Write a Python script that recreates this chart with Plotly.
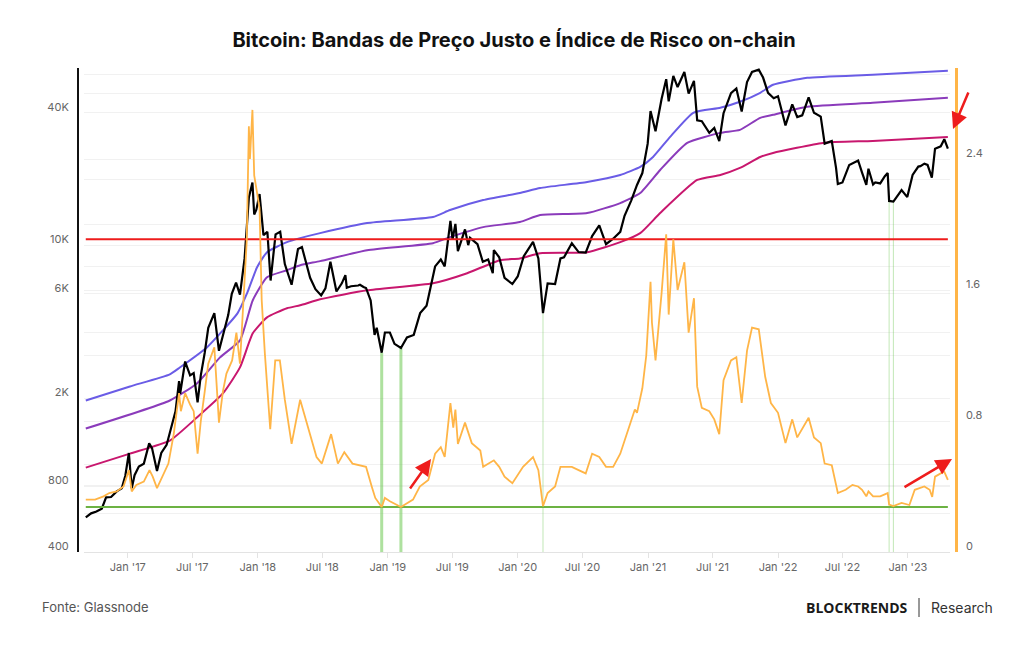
import math
import plotly.graph_objects as go

# ---------------- data ----------------
price_dates = [
    "2016-09-05", "2016-09-20", "2016-10-05", "2016-10-20", "2016-11-01", "2016-11-15", "2016-12-01",
    "2016-12-15", "2016-12-25", "2017-01-04", "2017-01-12", "2017-01-20", "2017-02-01", "2017-02-15",
    "2017-03-02", "2017-03-10", "2017-03-24", "2017-04-05", "2017-04-20", "2017-05-01", "2017-05-15",
    "2017-05-25", "2017-05-28", "2017-06-11", "2017-06-25", "2017-07-05", "2017-07-16", "2017-07-25",
    "2017-08-05", "2017-08-15", "2017-09-01", "2017-09-14", "2017-09-25", "2017-10-10", "2017-10-20",
    "2017-11-01", "2017-11-12", "2017-11-25", "2017-12-07", "2017-12-17", "2017-12-22", "2017-12-28",
    "2018-01-06", "2018-01-17", "2018-01-28", "2018-02-06", "2018-02-20", "2018-03-05", "2018-03-18",
    "2018-04-01", "2018-04-06", "2018-04-24", "2018-05-05", "2018-05-28", "2018-06-12", "2018-06-28",
    "2018-07-10", "2018-07-24", "2018-08-10", "2018-08-25", "2018-09-04", "2018-09-08", "2018-09-20",
    "2018-10-10", "2018-10-15", "2018-10-25", "2018-11-01", "2018-11-14", "2018-11-20", "2018-11-25",
    "2018-12-01", "2018-12-15", "2018-12-24", "2019-01-07", "2019-01-20", "2019-02-07", "2019-02-24",
    "2019-03-15", "2019-04-02", "2019-04-20", "2019-05-14", "2019-05-30", "2019-06-10", "2019-06-26",
    "2019-07-02", "2019-07-10", "2019-07-17", "2019-08-06", "2019-08-15", "2019-08-20", "2019-09-10",
    "2019-09-25", "2019-10-10", "2019-10-23", "2019-10-26", "2019-11-10", "2019-11-25", "2019-12-17",
    "2020-01-01", "2020-01-18", "2020-02-13", "2020-02-28", "2020-03-12", "2020-03-25", "2020-04-15",
    "2020-04-30", "2020-05-10", "2020-06-01", "2020-06-20", "2020-07-10", "2020-07-28", "2020-08-17",
    "2020-09-05", "2020-09-25", "2020-10-15", "2020-10-27", "2020-11-15", "2020-12-01", "2020-12-16",
    "2020-12-31", "2021-01-08", "2021-01-22", "2021-02-08", "2021-02-21", "2021-02-28", "2021-03-13",
    "2021-03-25", "2021-04-13", "2021-04-25", "2021-05-10", "2021-05-19", "2021-06-01", "2021-06-22",
    "2021-07-06", "2021-07-20", "2021-08-01", "2021-08-22", "2021-09-06", "2021-09-21", "2021-10-06",
    "2021-10-20", "2021-11-08", "2021-11-20", "2021-12-04", "2021-12-20", "2022-01-01", "2022-01-22",
    "2022-02-10", "2022-02-24", "2022-03-10", "2022-03-28", "2022-04-12", "2022-05-01", "2022-05-12",
    "2022-06-01", "2022-06-13", "2022-06-18", "2022-07-01", "2022-07-20", "2022-08-14", "2022-08-25",
    "2022-09-06", "2022-09-12", "2022-09-25", "2022-10-01", "2022-10-15", "2022-10-28", "2022-11-05",
    "2022-11-09", "2022-11-21", "2022-12-14", "2022-12-30", "2023-01-14", "2023-01-30", "2023-02-05",
    "2023-02-16", "2023-02-25", "2023-03-09", "2023-03-18", "2023-04-03", "2023-04-13", "2023-04-23",
]
price_values = [
    575, 600, 612, 630, 710, 712, 755,
    780, 890, 1130, 780, 895, 980, 1010,
    1250, 1190, 935, 1130, 1230, 1420, 1750,
    2400, 2100, 2950, 2550, 2610, 1920, 2550,
    3230, 4200, 4900, 3300, 3900, 4800, 6000,
    6750, 5950, 8700, 16500, 19300, 13800, 14500,
    17100, 11100, 11500, 6900, 11200, 11500, 8200,
    6850, 6600, 9600, 9800, 7100, 6300, 5900,
    6350, 8400, 6150, 6700, 7300, 6400, 6500,
    6550, 6600, 6450, 6380, 5600, 4400, 3900,
    4200, 3236, 4000, 4000, 3550, 3400, 3800,
    3900, 4900, 5300, 8000, 8600, 8000, 12900,
    10600, 12500, 9400, 11800, 10000, 10800, 10100,
    8400, 8600, 7450, 9500, 8800, 7100, 6650,
    7200, 8900, 10350, 8700, 4900, 6700, 6650,
    8700, 8800, 10200, 9300, 9250, 11000, 12300,
    10100, 10700, 11500, 13600, 16000, 18800, 21300,
    29000, 40800, 33000, 46300, 57000, 45200, 59000,
    52500, 61500, 49000, 56000, 37000, 36700, 32500,
    34200, 29800, 39900, 49300, 51700, 40600, 55300,
    61500, 63000, 58000, 49400, 46700, 47700, 35100,
    43800, 38300, 39000, 47100, 40100, 38500, 29000,
    29800, 22500, 19000, 19300, 23200, 24300, 21400,
    18800, 22300, 18900, 19300, 19100, 20600, 21300,
    15900, 15800, 17800, 16550, 20900, 22800, 22900,
    23500, 23200, 20300, 27500, 28200, 30400, 27500,
]

risk_dates = [
    "2016-09-05", "2016-10-01", "2016-10-25", "2016-11-10", "2016-12-01", "2016-12-20", "2017-01-04",
    "2017-01-12", "2017-01-25", "2017-02-15", "2017-03-03", "2017-03-12", "2017-03-24", "2017-04-10",
    "2017-04-25", "2017-05-10", "2017-05-25", "2017-05-30", "2017-06-11", "2017-06-25", "2017-07-05",
    "2017-07-16", "2017-07-25", "2017-08-05", "2017-08-15", "2017-09-01", "2017-09-14", "2017-09-25",
    "2017-10-05", "2017-10-21", "2017-11-02", "2017-11-12", "2017-11-20", "2017-12-01", "2017-12-07",
    "2017-12-10", "2017-12-17", "2017-12-22", "2018-01-06", "2018-01-12", "2018-01-21", "2018-02-05",
    "2018-02-19", "2018-03-04", "2018-03-18", "2018-04-06", "2018-04-30", "2018-05-28", "2018-06-15",
    "2018-06-30", "2018-07-26", "2018-08-14", "2018-09-01", "2018-09-24", "2018-11-01", "2018-11-17",
    "2018-11-27", "2018-12-15", "2018-12-24", "2019-01-07", "2019-01-26", "2019-02-07", "2019-03-13",
    "2019-04-01", "2019-04-25", "2019-05-14", "2019-05-30", "2019-06-10", "2019-06-26", "2019-07-04",
    "2019-07-10", "2019-07-17", "2019-08-06", "2019-08-25", "2019-09-18", "2019-09-26", "2019-10-26",
    "2019-11-10", "2019-11-25", "2019-12-17", "2020-01-16", "2020-02-13", "2020-02-28", "2020-03-12",
    "2020-03-25", "2020-04-15", "2020-04-30", "2020-06-01", "2020-06-20", "2020-07-10", "2020-07-28",
    "2020-08-17", "2020-09-05", "2020-09-25", "2020-10-15", "2020-10-27", "2020-11-15", "2020-11-25",
    "2020-12-01", "2020-12-16", "2020-12-27", "2021-01-03", "2021-01-08", "2021-01-12", "2021-01-22",
    "2021-02-08", "2021-02-21", "2021-02-28", "2021-03-13", "2021-03-25", "2021-04-13", "2021-04-25",
    "2021-05-10", "2021-05-19", "2021-06-01", "2021-06-22", "2021-07-06", "2021-07-20", "2021-08-01",
    "2021-08-22", "2021-09-06", "2021-09-21", "2021-10-06", "2021-10-20", "2021-11-08", "2021-11-26",
    "2021-12-12", "2022-01-01", "2022-01-22", "2022-02-10", "2022-02-24", "2022-03-28", "2022-04-12",
    "2022-05-01", "2022-05-12", "2022-06-01", "2022-06-13", "2022-06-18", "2022-07-10", "2022-07-29",
    "2022-08-14", "2022-08-25", "2022-09-06", "2022-09-12", "2022-09-25", "2022-10-15", "2022-11-05",
    "2022-11-09", "2022-11-21", "2022-12-14", "2023-01-05", "2023-01-20", "2023-02-16", "2023-03-03",
    "2023-03-10", "2023-03-18", "2023-04-03", "2023-04-13", "2023-04-23",
]
risk_values = [
    0.32, 0.32, 0.34, 0.36, 0.37, 0.40, 0.50,
    0.37, 0.41, 0.43, 0.50, 0.46, 0.39, 0.47,
    0.54, 0.72, 0.97, 0.86, 0.97, 0.90, 0.86,
    0.60, 0.80, 0.98, 1.15, 1.25, 0.79, 0.98,
    1.09, 1.17, 1.34, 1.15, 1.45, 1.90, 2.60,
    2.40, 2.70, 2.30, 2.10, 1.54, 1.21, 0.75,
    1.17, 1.17, 0.93, 0.66, 0.93, 0.72, 0.58,
    0.54, 0.72, 0.54, 0.61, 0.54, 0.52, 0.40,
    0.33, 0.275, 0.33, 0.31, 0.287, 0.275, 0.32,
    0.40, 0.44, 0.60, 0.64, 0.58, 0.91, 0.76,
    0.87, 0.66, 0.79, 0.665, 0.62, 0.52, 0.56,
    0.52, 0.46, 0.42, 0.52, 0.58, 0.50, 0.28,
    0.36, 0.40, 0.52, 0.52, 0.50, 0.48, 0.60,
    0.58, 0.52, 0.52, 0.60, 0.68, 0.80, 0.87,
    0.85, 1.00, 1.20, 1.45, 1.65, 1.40, 1.17,
    1.58, 1.94, 1.45, 1.91, 1.60, 1.77, 1.34,
    1.55, 1.01, 0.88, 0.86, 0.81, 0.72, 1.05,
    1.17, 1.19, 0.91, 1.23, 1.37, 1.36, 1.07,
    0.91, 0.85, 0.665, 0.81, 0.70, 0.82, 0.70,
    0.665, 0.54, 0.53, 0.42, 0.36, 0.38, 0.41,
    0.40, 0.38, 0.34, 0.37, 0.34, 0.34, 0.36,
    0.29, 0.28, 0.30, 0.287, 0.38, 0.40, 0.38,
    0.336, 0.46, 0.48, 0.49, 0.44,
]

band_top_dates = [
    "2016-09-05", "2017-01-07", "2017-04-29", "2017-05-27", "2017-08-11", "2017-09-25", "2017-11-05",
    "2017-12-02", "2017-12-30", "2018-01-27", "2018-03-24", "2018-04-30", "2018-06-25", "2018-11-04",
    "2019-05-08", "2019-06-25", "2019-09-26", "2020-01-07", "2020-03-04", "2020-07-14", "2020-10-15",
    "2020-12-10", "2021-01-15", "2021-03-04", "2021-05-08", "2021-07-23", "2021-09-16", "2021-11-12",
    "2021-12-18", "2022-03-24", "2022-09-24", "2023-04-23",
]
band_top = [
    1960, 2270, 2580, 2770, 3420, 4090, 4890,
    6040, 7930, 9290, 10320, 10760, 11340, 12600,
    13430, 14450, 16050, 17280, 18210, 19400, 20870,
    22710, 25220, 31130, 40060, 42230, 44980, 49440,
    53780, 57870, 59750, 62310,
]

band_mid_dates = [
    "2016-09-05", "2017-04-29", "2017-07-14", "2017-09-17", "2017-11-12", "2017-12-18", "2018-01-27",
    "2018-03-24", "2018-04-30", "2018-06-25", "2018-11-04", "2019-05-08", "2019-06-25", "2019-09-26",
    "2020-01-07", "2020-03-04", "2020-07-14", "2020-10-15", "2020-12-10", "2021-02-04", "2021-04-21",
    "2021-07-23", "2021-09-16", "2021-11-12", "2021-12-18", "2022-03-24", "2022-09-24", "2023-04-23",
]
band_mid = [
    1460, 1960, 2344, 3081, 3683, 5610, 7142,
    7689, 8103, 8455, 9489, 10210, 10880, 12080,
    12740, 13710, 14000, 15550, 17280, 22000, 29230,
    32470, 33510, 38010, 39240, 42670, 44500, 46920,
]

band_low_dates = [
    "2016-09-05", "2017-01-07", "2017-04-29", "2017-07-14", "2017-09-25", "2017-11-12", "2017-12-18",
    "2018-01-27", "2018-03-24", "2018-04-30", "2018-06-25", "2018-11-04", "2019-05-08", "2019-08-12",
    "2019-11-12", "2020-01-07", "2020-03-04", "2020-07-14", "2020-10-15", "2020-12-10", "2021-02-04",
    "2021-05-19", "2021-07-23", "2021-09-16", "2021-11-12", "2021-12-18", "2022-05-07", "2022-09-24",
    "2023-04-23",
]
band_low = [
    969, 1123, 1287, 1639, 2110, 2773, 3965,
    4690, 5157, 5321, 5668, 6230, 6707, 7450,
    8542, 8700, 9193, 9290, 10320, 11340, 14000,
    19810, 20870, 22470, 25220, 26310, 29230, 29850,
    31130,
]

bottom_dates = ["2018-12-15", "2019-02-07", "2020-03-12", "2022-11-09", "2022-11-21"]
bottom_prices = [3236, 3400, 4900, 15900, 15800]

risk_floor = 0.275
risk_ceiling = 1.91

price_tick_vals = [400, 600, 800, 1000, 2000, 4000, 6000, 8000, 10000, 20000, 40000, 60000]
price_tick_text = ["400", "", "800", "", "2K", "", "6K", "", "10K", "", "40K", ""]
risk_tick_vals = [0, 0.4, 0.8, 1.2, 1.6, 2.0, 2.4, 2.8]
risk_tick_text = ["0", "", "0.8", "", "1.6", "", "2.4", ""]
date_tick_vals = ["2017-01-01", "2017-07-01", "2018-01-01", "2018-07-01", "2019-01-01", "2019-07-01",
                  "2020-01-01", "2020-07-01", "2021-01-01", "2021-07-01", "2022-01-01", "2022-07-01",
                  "2023-01-01"]
date_tick_text = ["Jan '17", "Jul '17", "Jan '18", "Jul '18", "Jan '19", "Jul '19", "Jan '20",
                  "Jul '20", "Jan '21", "Jul '21", "Jan '22", "Jul '22", "Jan '23"]

# ---------------- styles ----------------
C_TOP = "#6a5ce6"
C_MID = "#8b3bbb"
C_LOW = "#c8176e"
C_RISK = "#ffb547"
C_RED = "#ee1c1c"
C_GREEN = "#6cb243"
bottom_styles = [(3, "rgba(120,205,95,0.6)"), (3, "rgba(120,205,95,0.6)"), (1, "rgba(120,205,95,0.45)"),
                 (1, "rgba(120,205,95,0.45)"), (1, "rgba(120,205,95,0.45)")]

fig = go.Figure()

# bands (left log axis)
for d, v, c in [(band_top_dates, band_top, C_TOP), (band_mid_dates, band_mid, C_MID),
                (band_low_dates, band_low, C_LOW)]:
    fig.add_trace(go.Scatter(x=d, y=v, mode="lines", line=dict(color=c, width=2, shape="spline", smoothing=0.5),
                             yaxis="y", hoverinfo="skip"))

# vertical markers at bottoms
for d, p, (w, c) in zip(bottom_dates, bottom_prices, bottom_styles):
    fig.add_trace(go.Scatter(x=[d, d], y=[p, price_tick_vals[0]], mode="lines",
                             line=dict(color=c, width=w), yaxis="y", hoverinfo="skip"))

# price
fig.add_trace(go.Scatter(x=price_dates, y=price_values, mode="lines",
                         line=dict(color="#000000", width=2.2), yaxis="y", name="BTC"))

# reference lines on risk axis
fig.add_trace(go.Scatter(x=[price_dates[0], price_dates[-1]], y=[risk_ceiling, risk_ceiling], mode="lines",
                         line=dict(color=C_RED, width=2), yaxis="y2", hoverinfo="skip"))
fig.add_trace(go.Scatter(x=[price_dates[0], price_dates[-1]], y=[risk_floor, risk_floor], mode="lines",
                         line=dict(color=C_GREEN, width=2), yaxis="y2", hoverinfo="skip"))

# risk index
fig.add_trace(go.Scatter(x=risk_dates, y=risk_values, mode="lines",
                         line=dict(color=C_RISK, width=1.8), yaxis="y2", name="Risco"))

W = 1024 - 78 - 68
H = 645 - 68 - 93


def px_x(p):
    return (p - 78) / W


def px_y(p):
    return (552 - p) / H


tick_font = dict(family="Inter, sans-serif", size=11, color="#666666")

fig.update_layout(
    width=1024, height=645, autosize=False,
    margin=dict(l=78, r=68, t=68, b=93),
    paper_bgcolor="white", plot_bgcolor="white",
    showlegend=False,
    font=dict(family="Inter, sans-serif", size=11, color="#666666"),
    title=dict(text="<b>Bitcoin: Bandas de Preço Justo e Índice de Risco on-chain</b>",
               font=dict(family="Inter, sans-serif", size=20, color="#111111"),
               x=0.502, xref="container", xanchor="center",
               y=1 - 40 / 645, yref="container", yanchor="middle"),
    xaxis=dict(type="date", domain=[6 / W, 872 / W], range=["2016-08-31", "2023-04-29"],
               tickmode="array", tickvals=date_tick_vals, ticktext=date_tick_text,
               showgrid=False, zeroline=False, showline=True, linecolor="#e3e3e3", linewidth=1,
               ticks="outside", ticklen=5, tickcolor="#e3e3e3", tickfont=tick_font, anchor="y"),
    yaxis=dict(type="log", range=[math.log10(400), 4.807], anchor="free", position=0, side="left",
               tickmode="array", tickvals=price_tick_vals, ticktext=price_tick_text,
               showgrid=True, gridcolor="#f1f1f1", gridwidth=1, zeroline=False,
               showline=True, linecolor="#111111", linewidth=2,
               ticks="outside", ticklen=6, tickcolor="rgba(0,0,0,0)", tickfont=tick_font,
               ticklabelshift=-6),
    yaxis2=dict(overlaying="y", side="right", anchor="free", position=1, range=[0, 2.956],
                tickmode="array", tickvals=risk_tick_vals, ticktext=risk_tick_text,
                showgrid=True, gridcolor="#f1f1f1", gridwidth=1, zeroline=False,
                showline=True, linecolor=C_RISK, linewidth=2.5,
                ticks="outside", ticklen=6, tickcolor="rgba(0,0,0,0)", tickfont=tick_font,
                ticklabelshift=-6),
)

arrows = [
    (px_x(431), px_y(459), -22, 31),
    (px_x(952), px_y(459), -49, 29),
    (px_x(953), px_y(129), 16, -38),
]
for hx, hy, ax, ay in arrows:
    fig.add_annotation(x=hx, y=hy, xref="paper", yref="paper", text="", showarrow=True,
                       ax=ax, ay=ay, arrowcolor=C_RED, arrowwidth=2.5, arrowhead=2, arrowsize=1.3)

fig.add_annotation(x=px_x(40), y=px_y(607), xref="paper", yref="paper", text="Fonte: Glassnode",
                   showarrow=False, xanchor="left", yanchor="middle",
                   font=dict(family="Inter, sans-serif", size=13, color="#555555"))
fig.add_annotation(x=px_x(910), y=px_y(607), xref="paper", yref="paper", text="<b>BLOCKTRENDS</b>",
                   showarrow=False, xanchor="right", yanchor="middle",
                   font=dict(family="Open Sans, sans-serif", size=14, color="#1a1a1a"))
fig.add_annotation(x=px_x(929), y=px_y(607), xref="paper", yref="paper", text="Research",
                   showarrow=False, xanchor="left", yanchor="middle",
                   font=dict(family="Inter, sans-serif", size=14, color="#333333"))
fig.add_shape(type="line", xref="paper", yref="paper", x0=px_x(919), x1=px_x(919),
              y0=px_y(598), y1=px_y(617), line=dict(color="#333333", width=1))

fig.write_html("out.html")
